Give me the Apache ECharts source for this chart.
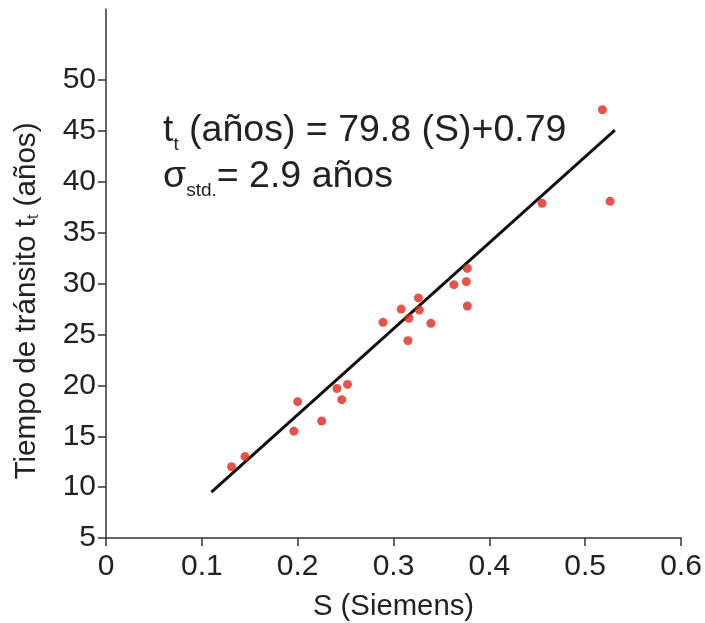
<!DOCTYPE html>
<html>
<head>
<meta charset="utf-8">
<script src="https://cdn.jsdelivr.net/npm/echarts@6/dist/echarts.min.js"></script>
<style>html,body{margin:0;padding:0;background:#fff}#c{width:705px;height:623px}</style>
</head>
<body>
<div id="c"></div>
<script>
// Measured data points (S in Siemens, transit time in años)
const conductivity = [0.131, 0.145, 0.196, 0.200, 0.225, 0.241, 0.246, 0.252, 0.289, 0.308, 0.315, 0.316, 0.326, 0.327, 0.339, 0.363, 0.376, 0.377, 0.377, 0.455, 0.518, 0.526];
const transitTime = [12.0, 13.0, 15.5, 18.4, 16.5, 19.7, 18.6, 20.1, 26.2, 27.5, 24.4, 26.6, 28.6, 27.4, 26.1, 29.9, 30.2, 27.8, 31.5, 37.9, 47.1, 38.1];
// Fitted line end points as drawn
const fitS = [0.11, 0.531];
const fitT = [9.5, 45.1];
// Tick labels
const xTicks = [0, 0.1, 0.2, 0.3, 0.4, 0.5, 0.6];
const yTicks = [5, 10, 15, 20, 25, 30, 35, 40, 45, 50];

const font = "'Liberation Sans', Arial, Helvetica, sans-serif";
const chart = echarts.init(document.getElementById('c'), null, {renderer: 'canvas'});
const axisCol = '#333';

chart.setOption({
  animation: false,
  backgroundColor: '#fff',
  grid: {left: 106, right: 24, top: 9, bottom: 85, containLabel: false, outerBoundsMode: 'none'},
  xAxis: {
    type: 'value', min: 0, max: 0.6, interval: 0.1,
    name: 'S (Siemens)', nameLocation: 'middle', nameGap: 54,
    nameTextStyle: {fontFamily: font, fontSize: 29.3, color: '#222'},
    axisLine: {show: true, lineStyle: {color: axisCol, width: 1.5}},
    axisTick: {show: true, length: 8, inside: false, lineStyle: {color: axisCol, width: 1.5}, customValues: xTicks},
    axisLabel: {fontFamily: font, fontSize: 30, color: '#222', margin: 14, customValues: xTicks,
      formatter: v => String(v)},
    splitLine: {show: false}
  },
  yAxis: {
    type: 'value', min: 5, max: 57, interval: 5,
    name: 'Tiempo de tránsito t{s|t} (años)', nameLocation: 'middle', nameGap: 64, nameRotate: 90,
    nameTextStyle: {fontFamily: font, fontSize: 29.6, color: '#222', padding: [0, 55, 0, 0],
      rich: {s: {fontFamily: font, fontSize: 16, color: '#222', verticalAlign: 'bottom', lineHeight: 16}}},
    axisLine: {show: true, lineStyle: {color: axisCol, width: 1.5}},
    axisTick: {show: true, length: 8, inside: false, lineStyle: {color: axisCol, width: 1.5}, customValues: yTicks},
    axisLabel: {fontFamily: font, fontSize: 30, color: '#222', margin: 10, customValues: yTicks},
    splitLine: {show: false}
  },
  series: [
    {
      type: 'line',
      data: fitS.map((s, i) => [s, fitT[i]]),
      symbol: 'none',
      lineStyle: {color: '#111', width: 3},
      z: 2
    },
    {
      type: 'scatter',
      data: conductivity.map((s, i) => [s, transitTime[i]]),
      symbol: 'circle', symbolSize: 9,
      itemStyle: {color: '#e0281e'},
      z: 3
    }
  ],
  graphic: [{
    type: 'text',
    left: 163, top: 108,
    style: {
      text: 't{s|t} (años) = 79.8 (S)+0.79\nσ{s|std.}= 2.9 años',
      fontFamily: font, fontSize: 37.5, lineHeight: 46, fill: '#222',
      rich: {s: {fontFamily: font, fontSize: 19, fill: '#222', verticalAlign: 'bottom', lineHeight: 20}}
    }
  }]
});
</script>
</body>
</html>
